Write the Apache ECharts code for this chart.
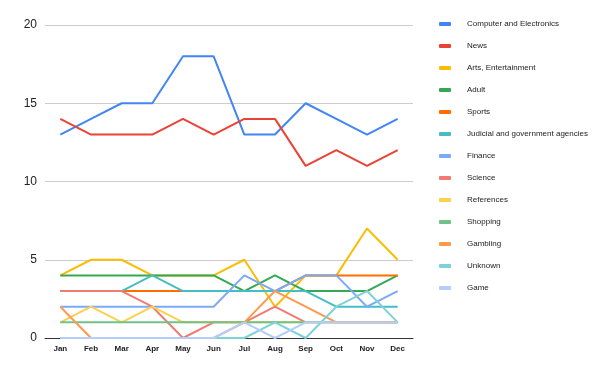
<!DOCTYPE html>
<html><head><meta charset="utf-8">
<script src="https://cdn.jsdelivr.net/npm/echarts@6/dist/echarts.min.js"></script>
<style>html,body{margin:0;padding:0;background:#fff}#c{width:600px;height:371px}</style>
</head><body><div id="c"></div>
<script>
const months = ['Jan','Feb','Mar','Apr','May','Jun','Jul','Aug','Sep','Oct','Nov','Dec'];
const yTicks = [0,5,10,15,20];
const computerElectronics = [13,14,15,15,18,18,13,13,15,14,13,14];
const news = [14,13,13,13,14,13,14,14,11,12,11,12];
const artsEntertainment = [4,5,5,4,4,4,5,2,4,4,7,5];
const adult = [4,4,4,4,4,4,3,4,3,3,3,4];
const sports = [3,3,3,3,3,3,3,3,4,4,4,4];
const judicial = [3,3,3,4,3,3,3,3,3,2,2,2];
const finance = [2,2,2,2,2,2,4,3,4,4,2,3];
const science = [3,3,3,2,0,1,1,2,1,1,1,1];
const references = [1,2,1,2,1,1,1,1,1,1,1,1];
const shopping = [1,1,1,1,1,1,1,1,1,1,1,1];
const gambling = [2,0,0,0,0,0,1,3,2,1,1,1];
const unknown = [0,0,0,0,0,0,0,1,0,2,3,1];
const game = [0,0,0,0,0,0,1,0,1,1,1,1];

const seriesDefs = [
  ['Computer and Electronics', computerElectronics, '#4285f4'],
  ['News', news, '#ea4335'],
  ['Arts, Entertainment', artsEntertainment, '#fbbc04'],
  ['Adult', adult, '#34a853'],
  ['Sports', sports, '#ff6d01'],
  ['Judicial and government agencies', judicial, '#46bdc6'],
  ['Finance', finance, '#7baaf7'],
  ['Science', science, '#f07b72'],
  ['References', references, '#fcd04f'],
  ['Shopping', shopping, '#71c287'],
  ['Gambling', gambling, '#ff994d'],
  ['Unknown', unknown, '#7ed1d7'],
  ['Game', game, '#b3cefb']
];

const chart = echarts.init(document.getElementById('c'), null, {renderer:'canvas'});
chart.setOption({
  animation: false,
  color: seriesDefs.map(s => s[2]),
  grid: {left: 45, right: 187, top: 25, bottom: 33, containLabel: false},
  legend: {
    orient: 'vertical', left: 434, top: 15, itemGap: 14,
    itemWidth: 12, itemHeight: 4, icon: 'roundRect',
    textStyle: {fontFamily: 'Liberation Sans Narrow, Liberation Sans, Arial', fontSize: 8, color: '#222', padding: [0,0,0,11]},
    data: seriesDefs.map(s => s[0])
  },
  xAxis: {
    type: 'category', data: months, boundaryGap: true,
    axisLine: {lineStyle: {color: '#333', width: 1}},
    axisTick: {show: false},
    axisLabel: {fontFamily: 'Liberation Sans, Arial', fontSize: 8, fontWeight: 'bold', color: '#222', margin: 7}
  },
  yAxis: {
    type: 'value', min: 0, max: 20, interval: 5,
    axisLine: {show: false}, axisTick: {show: false},
    axisLabel: {fontFamily: 'Liberation Sans, Arial', fontSize: 12, color: '#222', margin: 8,
      formatter: v => yTicks.includes(v) ? String(v) : ''},
    splitLine: {lineStyle: {color: '#cccccc', width: 1}}
  },
  series: seriesDefs.map(s => ({
    name: s[0], type: 'line', data: s[1], showSymbol: false, symbol: 'none',
    lineStyle: {width: 2, color: s[2]}, itemStyle: {color: s[2]}
  }))
});
</script></body></html>
